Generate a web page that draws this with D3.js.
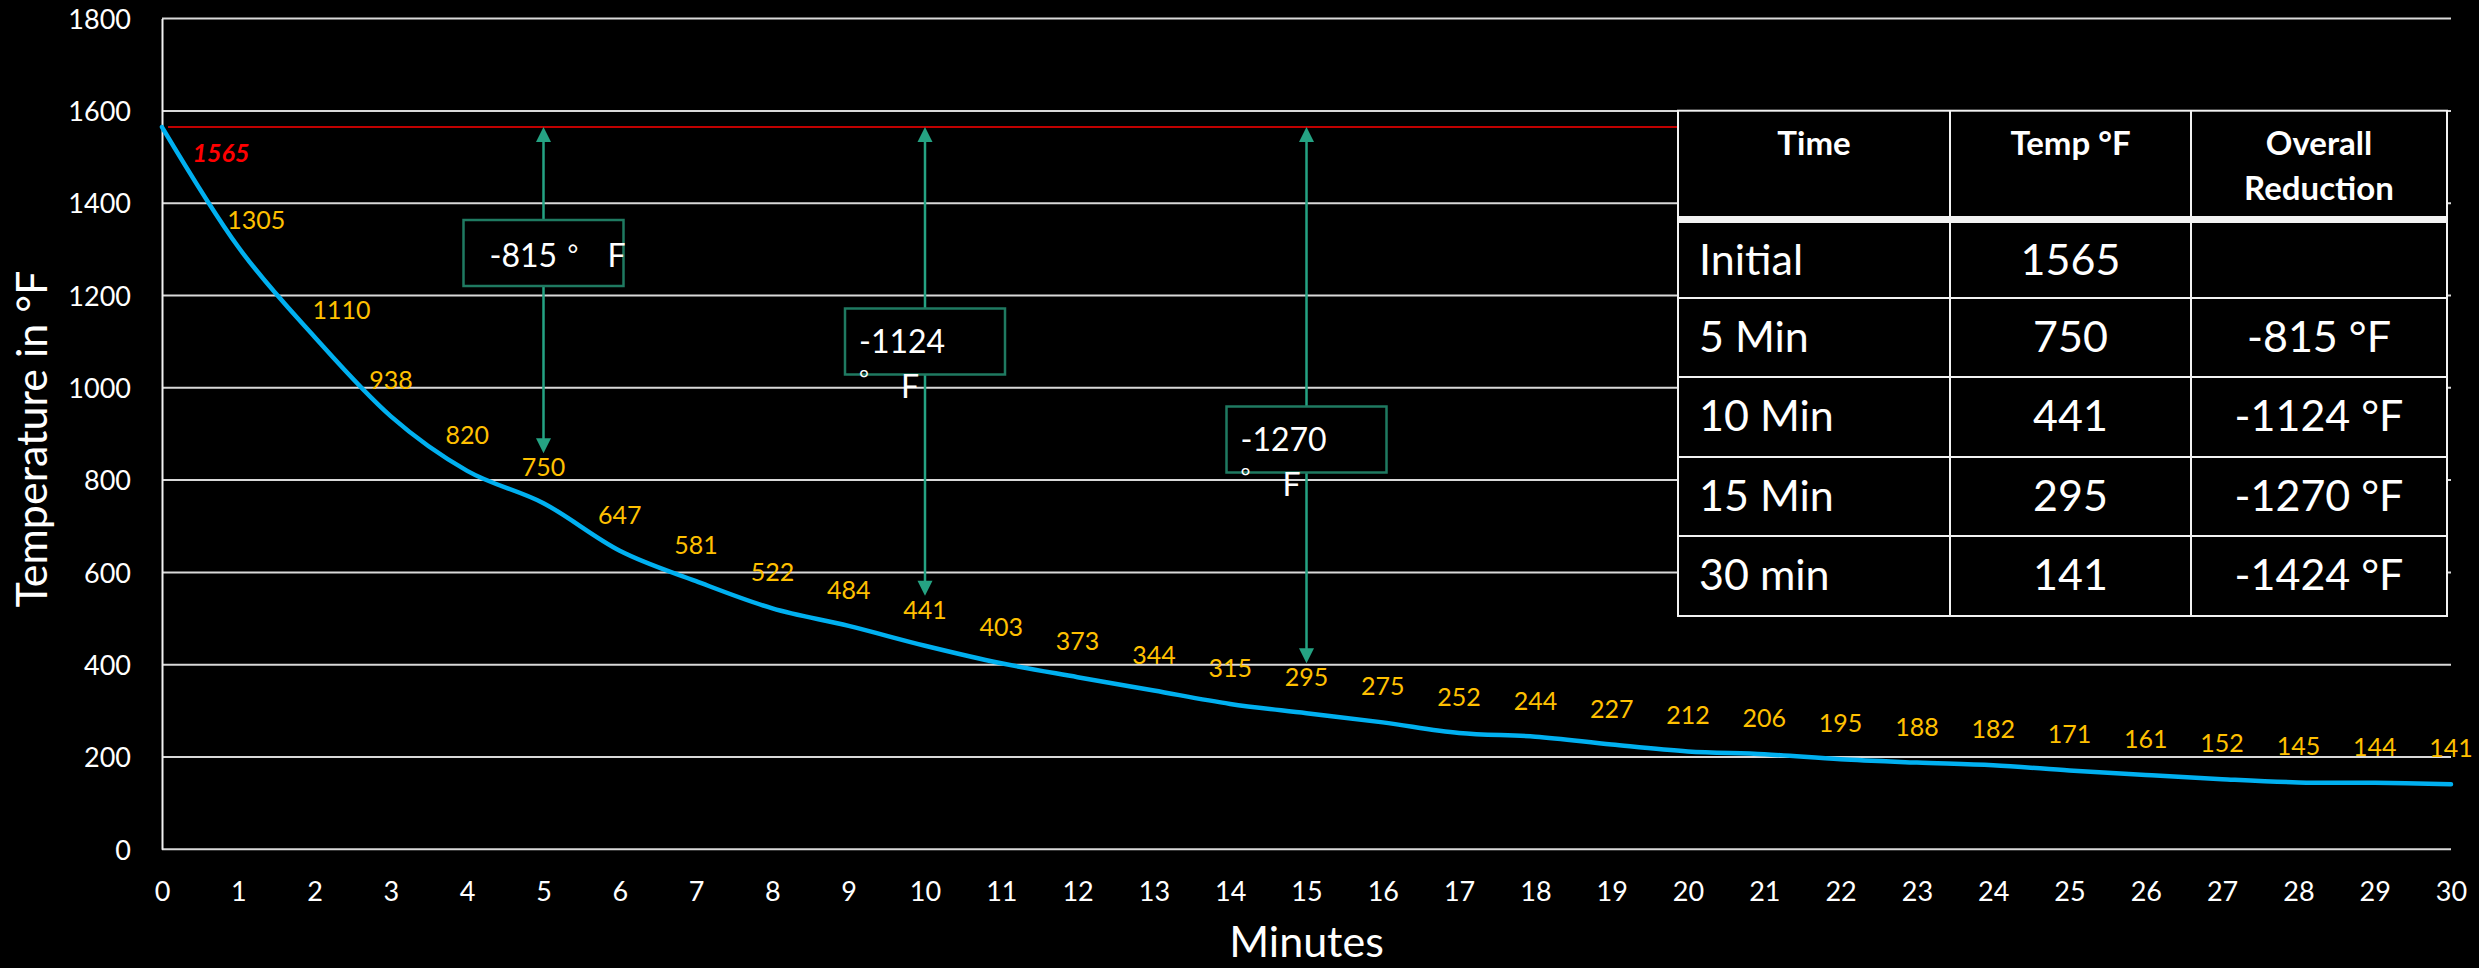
<!DOCTYPE html>
<html>
<head>
<meta charset="utf-8">
<script src="https://cdn.jsdelivr.net/npm/d3@7"></script>
<style>
  html, body { margin: 0; padding: 0; background: #000; }
  svg { display: block; }
  text { font-family: Lato, "Open Sans", sans-serif; }
</style>
</head>
<body>
<svg id="chart" width="2479" height="968"></svg>
<script>
// Cooling curve: temperature (°F) recorded every minute for 30 minutes
const minutes = [0, 1, 2, 3, 4, 5, 6, 7, 8, 9, 10, 11, 12, 13, 14, 15,
                 16, 17, 18, 19, 20, 21, 22, 23, 24, 25, 26, 27, 28, 29, 30];
const temperatures = [1565, 1305, 1110, 938, 820, 750, 647, 581, 522, 484, 441,
                      403, 373, 344, 315, 295, 275, 252, 244, 227, 212,
                      206, 195, 188, 182, 171, 161, 152, 145, 144, 141];
const yTicks = [0, 200, 400, 600, 800, 1000, 1200, 1400, 1600, 1800];
const xTicks = minutes;

// Summary table checkpoints
const checkpointMinutes = [0, 5, 10, 15, 30];
const checkpointNames = ["Initial", "5 Min", "10 Min", "15 Min", "30 min"];
const tableHeaders = [["Time"], ["Temp °F"], ["Overall", "Reduction"]];

// Minutes that get a reduction arrow on the chart
const arrowMinutes = [5, 10, 15];

const svg = d3.select("#chart");
const W = 2479, H = 968;
svg.append("rect").attr("width", W).attr("height", H).attr("fill", "#000");

const plot = { left: 162, right: 2451, top: 18.6, bottom: 849.3 };
const x = d3.scaleLinear().domain([0, 30]).range([plot.left, plot.right]);
const y = d3.scaleLinear().domain([0, 1800]).range([plot.bottom, plot.top]);

const capOf = fs => fs * 0.72; // Lato cap height

// Horizontal gridlines
svg.append("g").selectAll("line").data(yTicks).join("line")
  .attr("x1", plot.left).attr("x2", plot.right)
  .attr("y1", d => y(d)).attr("y2", d => y(d))
  .attr("stroke", "#d9d9d9").attr("stroke-width", 2);

// Y axis
const yAxis = svg.append("g").attr("transform", `translate(${plot.left},0)`)
  .call(d3.axisLeft(y).tickValues(yTicks).tickFormat(d3.format("d")).tickSize(0).tickPadding(31));
yAxis.select(".domain").attr("stroke", "#f2f2f2").attr("stroke-width", 2);
yAxis.selectAll("text").attr("fill", "#fff").attr("font-size", 27)
  .attr("font-family", "Lato, sans-serif").attr("dy", "0.36em");

// X axis (labels only; the 0 gridline acts as the baseline)
const xAxis = svg.append("g").attr("transform", `translate(0,${plot.bottom})`)
  .call(d3.axisBottom(x).tickValues(xTicks).tickFormat(d3.format("d")).tickSize(0).tickPadding(33));
xAxis.select(".domain").remove();
xAxis.selectAll("text").attr("fill", "#fff").attr("font-size", 27)
  .attr("font-family", "Lato, sans-serif");

// Axis titles
svg.append("text").attr("x", (plot.left + plot.right) / 2).attr("y", 957)
  .attr("text-anchor", "middle").attr("fill", "#fff").attr("font-size", 43)
  .text("Minutes");
svg.append("text").attr("transform", "translate(47,439) rotate(-90)")
  .attr("text-anchor", "middle").attr("fill", "#fff").attr("font-size", 43)
  .text("Temperature in °F");

// Initial temperature reference line (stops at the table)
const tableX = [1678, 1950, 2191, 2447];
const initial = temperatures[0];
svg.append("line")
  .attr("x1", plot.left + 6).attr("x2", tableX[0])
  .attr("y1", y(initial)).attr("y2", y(initial))
  .attr("stroke", "#c00000").attr("stroke-width", 2);

// Cooling curve
const series = minutes.map((m, i) => ({ m, v: temperatures[i] }));
svg.append("path").datum(series)
  .attr("fill", "none").attr("stroke", "#00b0f0").attr("stroke-width", 4.5)
  .attr("stroke-linejoin", "round").attr("stroke-linecap", "round")
  .attr("d", d3.line().x(d => x(d.m)).y(d => y(d.v)).curve(d3.curveCardinal.tension(0)));

// Value labels above each point; the first few are nudged off the steep curve
const labelNudge = { 0: [59, 26], 1: [18, -27], 2: [27, -27] };
const lblFs = 25;
svg.append("g").selectAll("text").data(series).join("text")
  .attr("x", (d, i) => x(d.m) + (labelNudge[i] ? labelNudge[i][0] : 0))
  .attr("y", (d, i) => y(d.v) + (labelNudge[i] ? labelNudge[i][1] : -36) + capOf(lblFs) / 2)
  .attr("text-anchor", "middle")
  .attr("font-size", lblFs)
  .attr("fill", (d, i) => i === 0 ? "#ff0000" : "#ffc000")
  .attr("font-weight", (d, i) => i === 0 ? 700 : 400)
  .attr("font-style", (d, i) => i === 0 ? "italic" : "normal")
  .text(d => d.v);

// Reduction arrows with callout boxes
const boxW = 160, boxH = 66;
const boxCenters = { 5: 253, 10: 341.5, 15: 439.5 };
const arrowColor = "#25a383", boxColor = "#1f7a61";
const head = 15;
const ann = svg.append("g");
arrowMinutes.forEach(m => {
  const v = temperatures[minutes.indexOf(m)];
  const drop = v - initial;
  const cx = x(m);
  const top = boxCenters[m] - boxH / 2, bot = boxCenters[m] + boxH / 2;
  const upTip = y(initial), downTip = y(v) - 50;
  ann.append("line").attr("x1", cx).attr("x2", cx).attr("y1", top).attr("y2", upTip + head - 1)
    .attr("stroke", arrowColor).attr("stroke-width", 2.5);
  ann.append("path").attr("d", `M${cx},${upTip}L${cx - head / 2},${upTip + head}L${cx + head / 2},${upTip + head}Z`)
    .attr("fill", arrowColor);
  ann.append("line").attr("x1", cx).attr("x2", cx).attr("y1", bot).attr("y2", downTip - head + 1)
    .attr("stroke", arrowColor).attr("stroke-width", 2.5);
  ann.append("path").attr("d", `M${cx},${downTip}L${cx - head / 2},${downTip - head}L${cx + head / 2},${downTip - head}Z`)
    .attr("fill", arrowColor);
  const left = cx - boxW / 2;
  ann.append("rect").attr("x", left).attr("y", top).attr("width", boxW).attr("height", boxH)
    .attr("fill", "#000").attr("stroke", boxColor).attr("stroke-width", 2.5);
  const t = ann.append("g").attr("fill", "#fff");
  const numTxt = String(drop);
  if (numTxt.length <= 4) {
    // fits on one line
    t.append("text").attr("x", left + 26).attr("y", top + 47).attr("font-size", 32).text(numTxt);
    t.append("text").attr("x", left + 104).attr("y", top + 44).attr("font-size", 26).text("°");
    t.append("text").attr("x", left + 144).attr("y", top + 47).attr("font-size", 32).text("F");
  } else {
    // wraps: degree sign and unit fall onto a second line
    t.append("text").attr("x", left + 14).attr("y", top + 44).attr("font-size", 32).text(numTxt);
    t.append("text").attr("x", left + 14).attr("y", top + 78).attr("font-size", 24).text("°");
    t.append("text").attr("x", left + 56).attr("y", top + 89).attr("font-size", 32).text("F");
  }
});

// Summary table
const tableTop = 110.7, bandTop = 216, bandBot = 223;
const rowEdges = [bandBot, 298, 377, 457, 536, 616];
const table = svg.append("g");
table.append("rect").attr("x", tableX[0]).attr("y", tableTop)
  .attr("width", tableX[3] - tableX[0]).attr("height", rowEdges[5] - tableTop)
  .attr("fill", "#000").attr("stroke", "#f2f2f2").attr("stroke-width", 2);
table.append("rect").attr("x", tableX[0]).attr("y", bandTop)
  .attr("width", tableX[3] - tableX[0]).attr("height", bandBot - bandTop).attr("fill", "#f2f2f2");
rowEdges.slice(1, 5).forEach(ry => {
  table.append("line").attr("x1", tableX[0]).attr("x2", tableX[3]).attr("y1", ry).attr("y2", ry)
    .attr("stroke", "#f2f2f2").attr("stroke-width", 2);
});
[tableX[1], tableX[2]].forEach(cx => {
  table.append("line").attr("x1", cx).attr("x2", cx).attr("y1", tableTop).attr("y2", rowEdges[5])
    .attr("stroke", "#f2f2f2").attr("stroke-width", 2);
});
const colMid = i => (tableX[i] + tableX[i + 1]) / 2;
tableHeaders.forEach((lines, i) => {
  lines.forEach((ln, j) => {
    table.append("text").attr("x", colMid(i)).attr("y", 155 + j * 45)
      .attr("text-anchor", "middle").attr("fill", "#fff")
      .attr("font-size", 33).attr("font-weight", 700).text(ln);
  });
});
const bodyFs = 43;
checkpointMinutes.forEach((m, r) => {
  const v = temperatures[minutes.indexOf(m)];
  const rowMid = (rowEdges[r] + rowEdges[r + 1]) / 2;
  const base = rowMid + 14;
  table.append("text").attr("x", tableX[0] + 21).attr("y", base)
    .attr("fill", "#fff").attr("font-size", bodyFs).text(checkpointNames[r]);
  table.append("text").attr("x", colMid(1)).attr("y", base).attr("text-anchor", "middle")
    .attr("fill", "#fff").attr("font-size", bodyFs).text(v);
  if (m !== 0) {
    table.append("text").attr("x", colMid(2)).attr("y", base).attr("text-anchor", "middle")
      .attr("fill", "#fff").attr("font-size", bodyFs).text(`${v - initial} °F`);
  }
});
</script>
</body>
</html>
